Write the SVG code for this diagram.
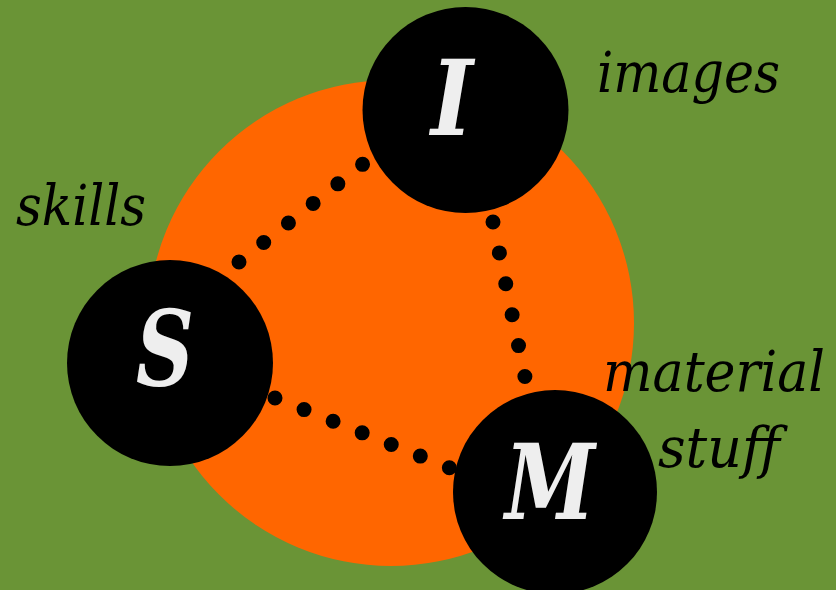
<svg xmlns="http://www.w3.org/2000/svg" width="836" height="590" viewBox="0 0 836 590">
<style>
.dots{fill:none;stroke:#000;stroke-width:15;stroke-linecap:round}
.node{fill:#000}
.letter{font-family:"DejaVu Serif","Liberation Serif",serif;font-weight:bold;font-style:italic;font-size:104px;fill:#eeeeee;text-anchor:middle}
.label{font-family:"DejaVu Serif","Liberation Serif",serif;font-style:italic;font-size:56px;fill:#000}
</style>
<rect width="836" height="590" fill="#6a9436"/>
<circle cx="391" cy="323" r="243" fill="#ff6600"/>
<g id="connectors">
<path class="dots" d="M239,262 L363,164" stroke-dasharray="0 31.5"/>
<path class="dots" d="M493,222 L525,377" stroke-dasharray="0 31.55"/>
<path class="dots" d="M275,398 L450,468" stroke-dasharray="0 31.3"/>
</g>
<g id="node-I">
<circle class="node" cx="465.5" cy="110" r="103"/>
<text class="letter" x="452" y="135" textLength="42" lengthAdjust="spacingAndGlyphs">I</text>
</g>
<g id="node-S">
<circle class="node" cx="170" cy="363" r="103"/>
<text class="letter" x="165" y="386" textLength="58" lengthAdjust="spacingAndGlyphs">S</text>
</g>
<g id="node-M">
<circle class="node" cx="555" cy="492" r="102"/>
<text class="letter" x="550" y="519" textLength="90" lengthAdjust="spacingAndGlyphs">M</text>
</g>
<text class="label" x="603" y="391" textLength="222" lengthAdjust="spacingAndGlyphs">material</text>
<text class="label" x="597" y="92" textLength="183" lengthAdjust="spacingAndGlyphs">images</text>
<text class="label" x="16" y="225" textLength="130" lengthAdjust="spacingAndGlyphs">skills</text>
<text class="label" x="658" y="467" textLength="122" lengthAdjust="spacingAndGlyphs">stuff</text>
</svg>
